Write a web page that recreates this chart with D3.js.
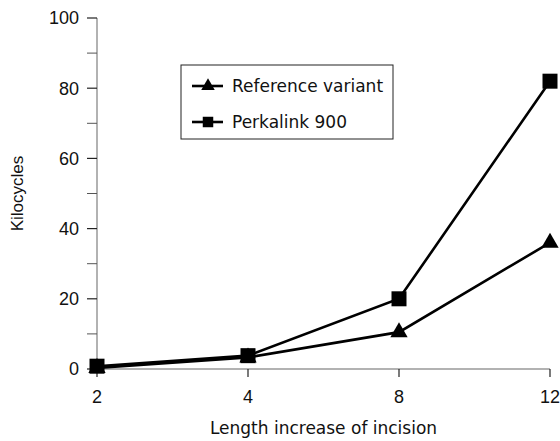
<!DOCTYPE html>
<html>
<head>
  <meta charset="utf-8">
  <title>Kilocycles vs length increase of incision</title>
  <script src="https://d3js.org/d3.v7.min.js"></script>
  <style>
    body { margin: 0; background: #fff; }
    .tick-num { font-family: "Liberation Sans Narrow", "Liberation Sans", Arial, sans-serif; font-size: 18px; fill: #111; }
    .title { font-family: "DejaVu Sans", sans-serif; font-size: 17px; fill: #111; }
    .ylab { font-family: "Liberation Sans", Arial, sans-serif; font-size: 17px; fill: #111; }
  </style>
</head>
<body>
<div id="chart"></div>
<script>
// data
var lengths = ["2", "4", "8", "12"];
var referenceVariant = [0.3, 3.3, 10.5, 36];
var perkalink900 = [0.8, 3.8, 20, 82];
var yTicks = [0, 20, 40, 60, 80, 100];
var yMinor = [10, 30, 50, 70, 90];
var seriesNames = ["Reference variant", "Perkalink 900"];

var width = 560, height = 441;
var svg = d3.select("#chart").append("svg")
  .attr("width", width).attr("height", height);

var x = d3.scalePoint().domain(lengths).range([97, 550]);
var y = d3.scaleLinear().domain([0, 100]).range([369, 18]);

// axis lines (gray)
svg.append("line").attr("x1", 97).attr("x2", 97).attr("y1", y(100)).attr("y2", y(0))
  .attr("stroke", "#999").attr("stroke-width", 1.5);
svg.append("line").attr("x1", 97).attr("x2", 550).attr("y1", y(0)).attr("y2", y(0))
  .attr("stroke", "#999").attr("stroke-width", 1.5);

// y ticks
svg.selectAll(".ymaj").data(yTicks).enter().append("line")
  .attr("x1", 87).attr("x2", 97).attr("y1", d => y(d)).attr("y2", d => y(d))
  .attr("stroke", "#222").attr("stroke-width", 1.2);
svg.selectAll(".ymin").data(yMinor).enter().append("line")
  .attr("x1", 87).attr("x2", 97).attr("y1", d => y(d)).attr("y2", d => y(d))
  .attr("stroke", "#555").attr("stroke-width", 1);
svg.selectAll(".ylbl").data(yTicks).enter().append("text")
  .attr("class", "tick-num")
  .attr("x", 79).attr("y", d => y(d)).attr("dy", "0.36em")
  .attr("text-anchor", "end").text(d => d);

// x ticks
svg.selectAll(".xt").data(lengths).enter().append("line")
  .attr("x1", d => x(d)).attr("x2", d => x(d)).attr("y1", y(0)).attr("y2", y(0) + 8)
  .attr("stroke", "#222").attr("stroke-width", 1.2);
svg.selectAll(".xl").data(lengths).enter().append("text")
  .attr("class", "tick-num")
  .attr("x", d => x(d)).attr("y", 403)
  .attr("text-anchor", "middle").text(d => d);

// axis titles
svg.append("text").attr("class", "title")
  .attr("x", (97 + 550) / 2).attr("y", 434).attr("text-anchor", "middle")
  .text("Length increase of incision");
svg.append("text").attr("class", "ylab")
  .attr("transform", "translate(23," + ((18 + 369) / 2) + ") rotate(-90)")
  .attr("text-anchor", "middle").text("Kilocycles");

var line = d3.line().x((d, i) => x(lengths[i])).y(d => y(d));

function drawSeries(vals, shape, size) {
  svg.append("path").datum(vals)
    .attr("d", line).attr("fill", "none")
    .attr("stroke", "#000").attr("stroke-width", 2.6);
  svg.selectAll(null).data(vals).enter().append("path")
    .attr("transform", (d, i) => "translate(" + x(lengths[i]) + "," + y(d) + ")")
    .attr("d", d3.symbol().type(shape).size(size))
    .attr("fill", "#000");
}
drawSeries(referenceVariant, d3.symbolTriangle, 130);
drawSeries(perkalink900, d3.symbolSquare, 225);

// legend
var lg = svg.append("g");
lg.append("rect").attr("x", 181).attr("y", 65).attr("width", 212).attr("height", 74)
  .attr("fill", "none").attr("stroke", "#222").attr("stroke-width", 1);
var rows = [{ name: seriesNames[0], shape: d3.symbolTriangle, size: 80, cy: 86 },
            { name: seriesNames[1], shape: d3.symbolSquare, size: 110, cy: 122 }];
rows.forEach(function (r) {
  lg.append("line").attr("x1", 192).attr("x2", 223).attr("y1", r.cy).attr("y2", r.cy)
    .attr("stroke", "#000").attr("stroke-width", 2.6);
  lg.append("path").attr("transform", "translate(208," + r.cy + ")")
    .attr("d", d3.symbol().type(r.shape).size(r.size)).attr("fill", "#000");
  lg.append("text").attr("class", "title").attr("x", 232).attr("y", r.cy).attr("dy", "0.36em")
    .text(r.name);
});
</script>
</body>
</html>
